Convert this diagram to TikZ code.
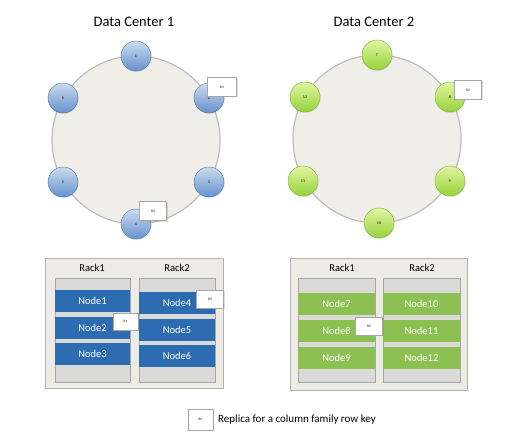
\documentclass[tikz,border=0pt]{standalone}
\usepackage{fontspec}
\setmainfont{Carlito}
\usetikzlibrary{shadows}
\definecolor{ringfill}{RGB}{240,238,232}
\definecolor{ringline}{RGB}{190,190,188}
\definecolor{bluetop}{RGB}{205,220,238}
\definecolor{bluebottom}{RGB}{100,145,205}
\definecolor{greentop}{RGB}{225,245,160}
\definecolor{greenbottom}{RGB}{150,210,60}
\definecolor{bluerow}{RGB}{45,108,176}
\definecolor{greenrow}{RGB}{140,193,82}
\definecolor{boxfill}{RGB}{236,235,230}
\definecolor{colfill}{RGB}{218,218,216}
\tikzset{
  ring/.style={draw=ringline, line width=1.2pt, fill=ringfill},
  bnode/.style={circle, minimum size=30pt, inner sep=0pt, draw=bluebottom!80!black, line width=0.4pt, top color=bluetop, bottom color=bluebottom, font=\fontsize{4}{4}\selectfont, drop shadow={opacity=0.2, shadow xshift=0.8pt, shadow yshift=-1pt}},
  gnode/.style={circle, minimum size=30pt, inner sep=0pt, draw=greenbottom!85!black, line width=0.4pt, top color=greentop, bottom color=greenbottom, font=\fontsize{4}{4}\selectfont, drop shadow={opacity=0.2, shadow xshift=0.8pt, shadow yshift=-1pt}},
  replica/.style={draw=gray!70, fill=white, drop shadow={opacity=0.25, shadow xshift=1pt, shadow yshift=-1pt}, minimum width=27pt, minimum height=19pt, inner sep=0pt, font=\fontsize{3.5}{4}\selectfont},
  dcbox/.style={draw=gray!60, fill=boxfill, drop shadow={opacity=0.2, shadow xshift=1pt, shadow yshift=-1pt}},
  rackcol/.style={draw=gray!70, fill=colfill},
  bluebar/.style={fill=bluerow, minimum width=75pt, minimum height=22pt, inner sep=0pt, text=white, font=\fontsize{10.5}{12}\selectfont},
  greenbar/.style={fill=greenrow, minimum width=77pt, minimum height=22pt, inner sep=0pt, text=white, font=\fontsize{10.5}{12}\selectfont}
}
\begin{document}
\begin{tikzpicture}[x=1pt, y=-1pt]
\useasboundingbox (0,0) rectangle (519,441);
\fill[white] (0,0) rectangle (519,441);
% data center 1 ring
\node (title1) at (134,22) {\fontsize{14.5}{16}\selectfont Data Center 1};
\draw[ring] (136,140) circle (84);
\node[bnode] (n1) at (136,56) {1};
\node[bnode] (n2) at (209,98) {2};
\node[bnode] (n3) at (209,182) {3};
\node[bnode] (n4) at (136,224) {4};
\node[bnode] (n5) at (63,182) {5};
\node[bnode] (n6) at (63,98) {6};
\node[replica, minimum width=29pt] (r1ring) at (222,87) {R1};
\node[replica] (r3ring) at (153,211) {R3};
% data center 2 ring
\node (title2) at (374,22) {\fontsize{14.5}{16}\selectfont Data Center 2};
\draw[ring] (377,139) circle (84);
\node[gnode] (n7) at (377,55) {7};
\node[gnode] (n8) at (450,97) {8};
\node[gnode] (n9) at (450,181) {9};
\node[gnode] (n10) at (379,223) {10};
\node[gnode] (n11) at (303,181) {11};
\node[gnode] (n12) at (305,97) {12};
\node[replica] (r2ring) at (468,90) {R2};
% racks data center 1
\draw[dcbox] (45,258) rectangle (223,388);
\node (rack1a) at (92,268) {\fontsize{10.5}{12}\selectfont Rack1};
\node (rack2a) at (177,268) {\fontsize{10.5}{12}\selectfont Rack2};
\draw[rackcol] (55,278) rectangle (130,382);
\draw[rackcol] (139,278) rectangle (215,382);
\node[bluebar] (node1) at (92.5,301) {Node1};
\node[bluebar] (node2) at (92.5,327.5) {Node2};
\node[bluebar] (node3) at (92.5,354) {Node3};
\node[bluebar, minimum width=76pt] (node4) at (177,303) {Node4};
\node[bluebar, minimum width=76pt] (node5) at (177,329.5) {Node5};
\node[bluebar, minimum width=76pt] (node6) at (177,356) {Node6};
\node[replica, minimum width=25pt, minimum height=17pt] (r1rack) at (125.5,321.5) {R1};
\node[replica, minimum height=18pt] (r3rack) at (210,299) {R3};
% racks data center 2
\draw[dcbox] (290,258) rectangle (467,390);
\node (rack1b) at (342,268) {\fontsize{10.5}{12}\selectfont Rack1};
\node (rack2b) at (422,268) {\fontsize{10.5}{12}\selectfont Rack2};
\draw[rackcol] (298,278) rectangle (375,382);
\draw[rackcol] (383,278) rectangle (460,382);
\node[greenbar] (node7) at (336.5,304) {Node7};
\node[greenbar] (node8) at (336.5,330.5) {Node8};
\node[greenbar] (node9) at (336.5,357.5) {Node9};
\node[greenbar] (node10) at (421.5,304) {Node10};
\node[greenbar] (node11) at (421.5,330.5) {Node11};
\node[greenbar] (node12) at (421.5,357.5) {Node12};
\node[replica, minimum height=18pt] (r2rack) at (369,326) {R2};
% legend
\node[replica, minimum width=25pt, minimum height=21pt] (keybox) at (200.5,419.5) {Rn};
\node[anchor=west, inner sep=0pt, font=\fontsize{11}{13}\selectfont] (keytext) at (218,419.5) {Replica for a column family row key};
\end{tikzpicture}
\end{document}
